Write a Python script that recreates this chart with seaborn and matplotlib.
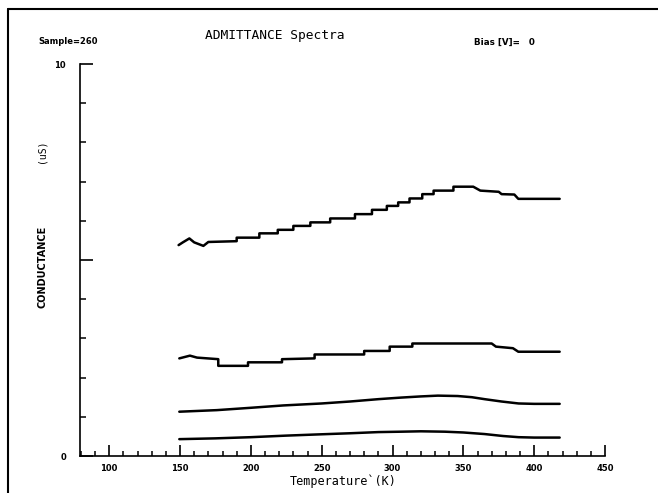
import numpy as np
import pandas as pd
import matplotlib
matplotlib.use("Agg")
import matplotlib.pyplot as plt
from matplotlib.lines import Line2D
from matplotlib.ticker import MultipleLocator, FixedLocator, FixedFormatter
import seaborn as sns

# ---- data ----
t1 = [149, 152, 156.6, 160, 166.5, 170, 190, 190, 206, 206, 219, 219, 230, 230, 242, 242,
      256, 256, 273.5, 273.5, 285.5, 285.5, 296, 296, 304, 304, 312, 312, 321, 321, 329, 329,
      343, 343, 357, 362, 375, 377, 386, 388.8, 418]
g1 = [5.38, 5.45, 5.55, 5.45, 5.36, 5.46, 5.48, 5.57, 5.57, 5.68, 5.68, 5.77, 5.77, 5.87, 5.87,
      5.96, 5.96, 6.06, 6.06, 6.17, 6.17, 6.28, 6.28, 6.38, 6.38, 6.47, 6.47, 6.57, 6.57, 6.68,
      6.68, 6.77, 6.77, 6.87, 6.87, 6.77, 6.74, 6.68, 6.67, 6.56, 6.56]

t2 = [149.5, 157, 162, 177, 177, 198, 198, 222, 222, 245, 245, 280, 280, 298, 298, 314, 314,
      370, 373, 385, 388.8, 418]
g2 = [2.49, 2.56, 2.51, 2.47, 2.30, 2.30, 2.39, 2.39, 2.47, 2.49, 2.59, 2.59, 2.68, 2.68, 2.79,
      2.79, 2.87, 2.87, 2.79, 2.75, 2.66, 2.66]

t3 = [149.5, 176, 200, 223, 250, 270, 290, 306, 320, 332, 346, 356, 365, 377, 389, 400, 418]
g3 = [1.13, 1.17, 1.23, 1.29, 1.34, 1.39, 1.45, 1.49, 1.52, 1.54, 1.53, 1.50, 1.45, 1.39, 1.34,
      1.33, 1.33]

t4 = [149.5, 175, 200, 225, 247, 270, 290, 306, 320, 337, 350, 365, 378, 389, 400, 418]
g4 = [0.43, 0.45, 0.48, 0.52, 0.55, 0.58, 0.61, 0.62, 0.63, 0.62, 0.60, 0.56, 0.51, 0.48, 0.47,
      0.47]

x_major = [100, 150, 200, 250, 300, 350, 400, 450]
x_labels = ["100", "150", "200", "250", "300", "350", "400", "450"]
y_major = [0, 5, 10]
y_labels = ["0", "", "10"]

frames = []
for name, t, g in [("s1", t1, g1), ("s2", t2, g2), ("s3", t3, g3), ("s4", t4, g4)]:
    frames.append(pd.DataFrame({"T": t, "G": g, "series": name}))
df = pd.concat(frames, ignore_index=True)

sns.set_style("white")
plt.rcParams["font.family"] = ["DejaVu Sans"]
plt.rcParams["text.color"] = "black"
plt.rcParams["xtick.color"] = "black"
plt.rcParams["ytick.color"] = "black"

W, H = 658, 493
fig = plt.figure(figsize=(W / 100, H / 100), dpi=100)
ax = fig.add_axes([80 / W, (H - 456) / H, 525 / W, 392 / H])

sns.lineplot(data=df, x="T", y="G", units="series", estimator=None, sort=False,
             color="black", linewidth=1.8, ax=ax, legend=False)

ax.set_xlim(79.4, 450)
ax.set_ylim(0, 10)
for s in ["top", "right"]:
    ax.spines[s].set_visible(False)
for s in ["left", "bottom"]:
    ax.spines[s].set_color("black")
    ax.spines[s].set_linewidth(1.2)

ax.xaxis.set_major_locator(FixedLocator(x_major))
ax.xaxis.set_major_formatter(FixedFormatter(x_labels))
ax.xaxis.set_minor_locator(MultipleLocator(10))
ax.yaxis.set_major_locator(FixedLocator(y_major))
ax.yaxis.set_major_formatter(FixedFormatter(y_labels))
ax.yaxis.set_minor_locator(MultipleLocator(1))
ax.tick_params(axis="x", which="major", direction="in", length=8, width=1.2,
               color="black", labelsize=6, pad=6, bottom=True, labelcolor="black")
ax.tick_params(axis="x", which="minor", direction="in", length=3.5, width=1.1,
               color="black", bottom=True)
ax.tick_params(axis="y", which="major", direction="in", length=9, width=1.2,
               color="black", labelsize=6, pad=10, left=True, labelcolor="black")
ax.tick_params(axis="y", which="minor", direction="in", length=4, width=1.1,
               color="black", left=True)
for lab in ax.get_xticklabels() + ax.get_yticklabels():
    lab.set_fontweight("bold")

ax.set_xlabel("")
ax.set_ylabel("")

fig.text(343 / W, 1 - 481 / H, "Temperature`(K)", ha="center", va="center",
         fontsize=8.5, family="DejaVu Sans Mono")
fig.text(42 / W, 1 - 267 / H, "CONDUCTANCE", rotation=90, ha="center", va="center",
         fontsize=7, fontweight="bold", family="DejaVu Sans")
fig.text(42 / W, 1 - 151 / H, "(uS)", rotation=90, ha="center", va="center",
         fontsize=7, family="DejaVu Sans Mono")
fig.text(38 / W, 1 - 42 / H, "Sample=260", ha="left", va="center",
         fontsize=6, fontweight="bold", family="DejaVu Sans")
fig.text(275 / W, 1 - 35 / H, "ADMITTANCE Spectra", ha="center", va="center",
         fontsize=9.3, family="DejaVu Sans Mono")
fig.text(474 / W, 1 - 42 / H, "Bias [V]=   0", ha="left", va="center",
         fontsize=6.3, fontweight="bold", family="DejaVu Sans")

# scan frame
fig.add_artist(Line2D([8 / W, 8 / W], [0, 1 - 9 / H], color="black", linewidth=1.5,
                      transform=fig.transFigure))
fig.add_artist(Line2D([8 / W, 1], [1 - 9 / H, 1 - 9 / H], color="black", linewidth=1.5,
                      transform=fig.transFigure))

fig.savefig("out.png", dpi=100, facecolor="white")
